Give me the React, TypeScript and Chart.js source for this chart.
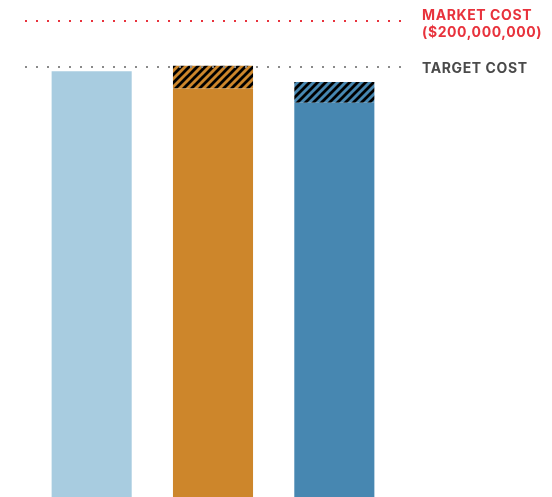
import React, { useEffect, useRef } from "react";
import { Chart, registerables } from "chart.js";

Chart.register(...registerables);

const categories = ["Option A", "Option B", "Option C"];
const baseCost = [179, 171.8, 165.8]; // $M, solid part
const overrun = [0, 9.6, 8.7]; // $M, hatched part
const marketCost = 200; // $M
const targetCost = 181; // $M
const refLabels = { market: ["MARKET COST", "($200,000,000)"], target: ["TARGET COST"] };

const barColors = ["#a8cce0", "#cd862b", "#4787b1"];

function makePattern(color: string): CanvasPattern | string {
  const s = 8;
  const c = document.createElement("canvas");
  c.width = s;
  c.height = s;
  const ctx = c.getContext("2d");
  if (!ctx) return color;
  ctx.fillStyle = color;
  ctx.fillRect(0, 0, s, s);
  ctx.strokeStyle = "#000";
  ctx.lineWidth = 2.8;
  ctx.beginPath();
  ctx.moveTo(-s, 2 * s);
  ctx.lineTo(2 * s, -s);
  ctx.moveTo(-2 * s, 2 * s);
  ctx.lineTo(s, -s);
  ctx.moveTo(0, 2 * s);
  ctx.lineTo(3 * s, -s);
  ctx.stroke();
  const p = ctx.createPattern(c, "repeat");
  return p || color;
}

const refLinePlugin = {
  id: "refLines",
  afterDatasetsDraw(chart: any) {
    const { ctx, chartArea, scales } = chart;
    const y = scales.y;
    const x0 = chartArea.left - 6;
    const x1 = chartArea.right + 10;
    const draw = (val: number, color: string) => {
      const py = Math.round(y.getPixelForValue(val));
      ctx.save();
      ctx.strokeStyle = color;
      ctx.lineWidth = 2;
      ctx.setLineDash([2, 9]);
      ctx.beginPath();
      ctx.moveTo(x0, py);
      ctx.lineTo(x1, py);
      ctx.stroke();
      ctx.restore();
      return py;
    };
    const pm = draw(marketCost, "#e8323c");
    const pt = draw(targetCost, "#8a8a8a");
    ctx.save();
    ctx.font = "700 14px Inter, 'Noto Sans', sans-serif";
    (ctx as any).letterSpacing = "0.6px";
    ctx.textBaseline = "alphabetic";
    ctx.textAlign = "left";
    const tx = chartArea.right + 27;
    ctx.fillStyle = "#e8323c";
    ctx.fillText(refLabels.market[0], tx, pm - 1.5);
    ctx.fillText(refLabels.market[1], tx, pm + 15.5);
    ctx.fillStyle = "#4a4a4a";
    ctx.fillText(refLabels.target[0], tx, pt + 5.5);
    ctx.restore();
  },
};

export default function App() {
  const ref = useRef<HTMLCanvasElement>(null);
  useEffect(() => {
    document.body.style.margin = "0";
    if (!ref.current) return;
    const chart = new Chart(ref.current, {
      type: "bar",
      data: {
        labels: categories,
        datasets: [
          {
            label: "Cost",
            data: baseCost,
            backgroundColor: barColors,
            borderWidth: 0,
            barPercentage: 0.66,
            categoryPercentage: 1,
          },
          {
            label: "Overrun",
            data: overrun,
            backgroundColor: barColors.map((c) => makePattern(c)) as any,
            borderWidth: 0,
            barPercentage: 0.66,
            categoryPercentage: 1,
          },
        ],
      },
      options: {
        animation: false,
        responsive: false,
        maintainAspectRatio: false,
        layout: { padding: { left: 31, right: 157, top: 0, bottom: 0 } },
        plugins: { legend: { display: false }, tooltip: { enabled: false } },
        scales: {
          x: { stacked: true, display: false },
          y: { stacked: true, display: false, min: 0, max: 209 },
        },
      },
      plugins: [refLinePlugin],
    });
    return () => chart.destroy();
  }, []);
  return (
    <div style={{ width: 552, height: 497 }}>
      <canvas ref={ref} width={552} height={497} style={{ display: "block" }} />
    </div>
  );
}
